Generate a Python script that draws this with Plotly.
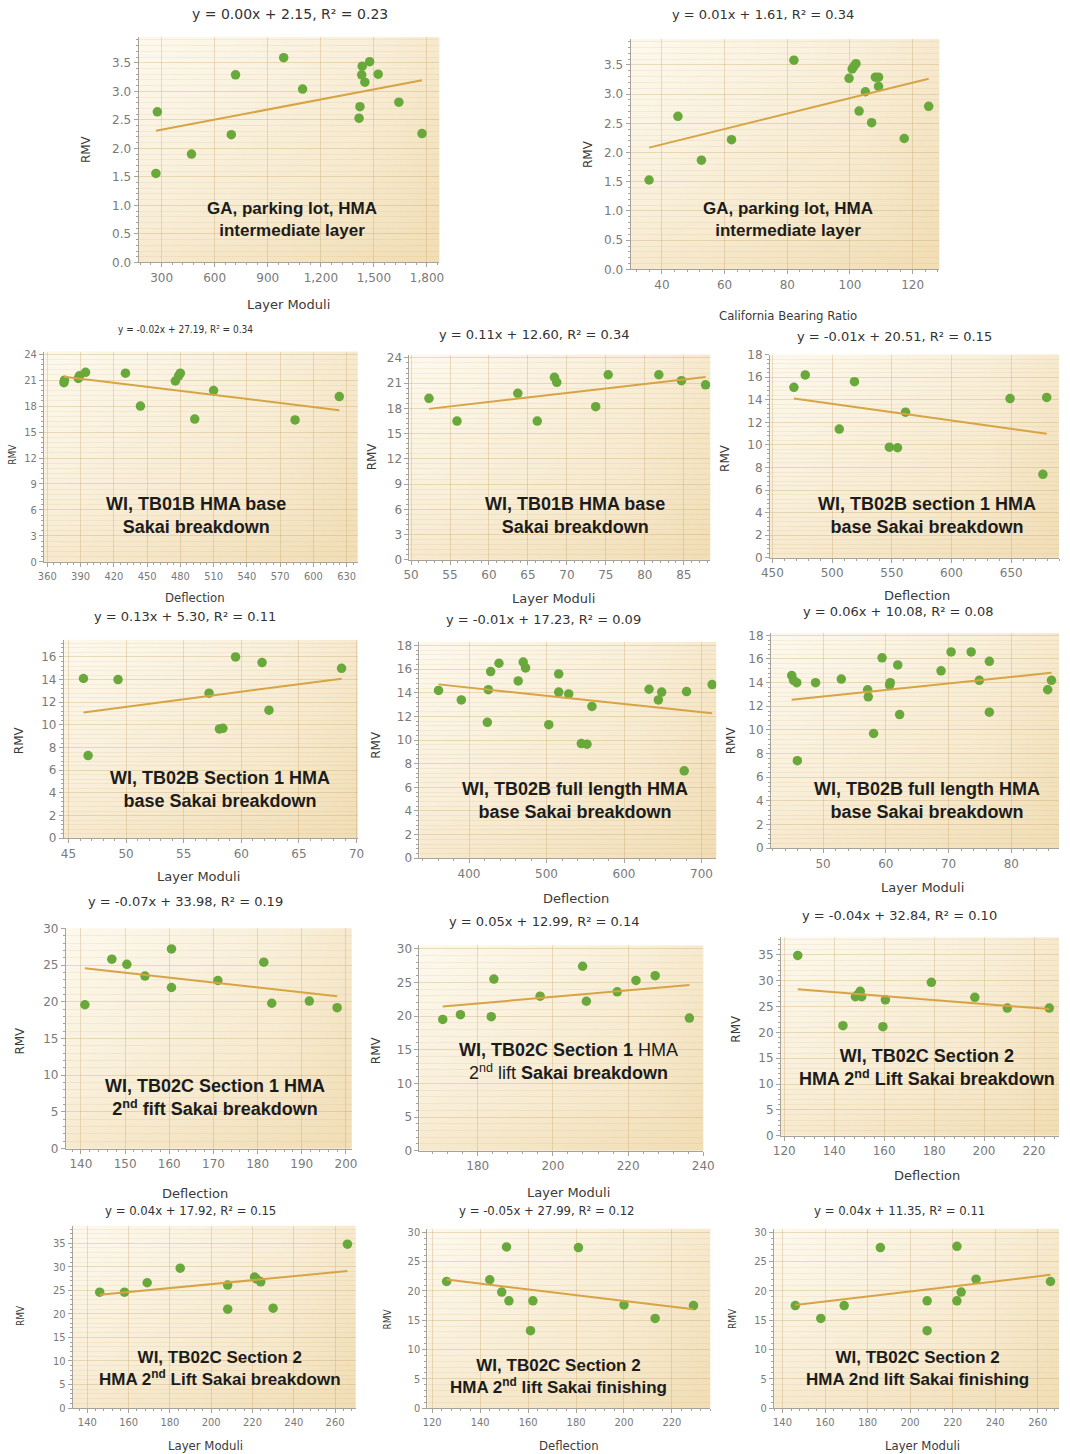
import base64
import struct
import zlib

import plotly.graph_objects as go

W, H = 1070, 1454
# Measured mapping of the capture: picture = s * (page + 8) in each direction
SX, SY, OFF = 0.9853, 0.989, 8.0

# ---------------- data ----------------
# Panel 1: GA parking lot, Layer Moduli
p1_x = [268, 276, 469, 694, 718, 990, 1097, 1416, 1421, 1431, 1434, 1449, 1476, 1524, 1641, 1772]
p1_y = [1.56, 2.64, 1.90, 2.24, 3.29, 3.59, 3.04, 2.53, 2.73, 3.29, 3.44, 3.16, 3.52, 3.30, 2.81, 2.26]
p1_trend = [0.00059, 2.15]

# Panel 2: GA parking lot, California Bearing Ratio
p2_x = [35.9, 45.1, 52.6, 62.2, 82.1, 99.7, 100.7, 101.3, 101.9, 102.9, 104.9, 106.9, 108.1, 109.1, 109.1, 117.3, 125.1]
p2_y = [1.53, 2.62, 1.87, 2.22, 3.58, 3.27, 3.43, 3.48, 3.52, 2.71, 3.04, 2.51, 3.29, 3.29, 3.13, 2.24, 2.79]
p2_trend = [0.0132, 1.61]

# Panel 3: WI TB01B, Deflection
p3_x = [375, 375.5, 388, 389, 394.5, 430.5, 444, 475.5, 478.5, 480, 493, 510, 583.5, 623.4]
p3_y = [20.7, 21.0, 21.2, 21.5, 21.9, 21.8, 18.0, 20.9, 21.5, 21.8, 16.5, 19.8, 16.4, 19.1]
p3_trend = [-0.0155, 27.19]

# Panel 4: WI TB01B, Layer Moduli
p4_x = [52.3, 55.9, 63.7, 66.2, 68.4, 68.7, 73.7, 75.3, 81.8, 84.7, 87.8]
p4_y = [19.2, 16.5, 19.8, 16.5, 21.7, 21.1, 18.2, 22.0, 22.0, 21.3, 20.8]
p4_trend = [0.107, 12.35]

# Panel 5: WI TB02B section 1, Deflection
p5_x = [468, 477.5, 506, 518.7, 548, 554.8, 561.5, 649, 676.5, 679.7]
p5_y = [15.1, 16.2, 11.4, 15.6, 9.8, 9.75, 12.9, 14.1, 7.4, 14.2]
p5_trend = [-0.0147, 20.98]

# Panel 6: WI TB02B Section 1, Layer Moduli
p6_x = [46.3, 46.7, 49.3, 57.2, 58.1, 58.4, 59.5, 61.8, 62.4, 68.7]
p6_y = [14.1, 7.3, 14.0, 12.8, 9.65, 9.7, 16.0, 15.5, 11.3, 15.0]
p6_trend = [0.133, 4.95]

# Panel 7: WI TB02B full length, Deflection
p7_x = [360.6, 390, 423.6, 424.9, 427.9, 438.6, 463.4, 469.9, 472.9, 502.9, 515.7, 515.7,
        528.6, 544.9, 552.2, 558.6, 632.3, 644.3, 648.6, 677.7, 680.7, 713.7]
p7_y = [14.2, 13.4, 11.5, 14.26, 15.8, 16.5, 15.0, 16.6, 16.1, 11.3, 15.6, 14.06,
        13.9, 9.7, 9.65, 12.85, 14.3, 13.4, 14.06, 7.4, 14.1, 14.7]
p7_trend = [-0.0069, 17.2]

# Panel 8: WI TB02B full length, Layer Moduli
p8_x = [45.0, 45.3, 45.8, 45.9, 48.8, 52.9, 57.1, 57.2, 58.05, 59.4, 60.6, 60.7,
        61.9, 62.2, 68.8, 70.4, 73.6, 74.9, 76.5, 76.5, 85.8, 86.4]
p8_y = [14.6, 14.2, 14.0, 7.4, 14.0, 14.3, 13.4, 12.8, 9.7, 16.1, 13.8, 14.0,
        15.5, 11.3, 15.0, 16.6, 16.6, 14.2, 15.8, 11.5, 13.4, 14.2]
p8_trend = [0.055, 10.08]

# Panel 9: WI TB02C Section 1, Deflection
p9_x = [140.9, 147, 150.4, 154.5, 160.5, 160.5, 171, 181.4, 183.2, 191.7, 198]
p9_y = [19.6, 25.8, 25.1, 23.5, 27.2, 21.95, 22.9, 25.4, 19.8, 20.1, 19.2]
p9_trend = [-0.0665, 33.93]

# Panel 10: WI TB02C Section 1, Layer Moduli
p10_x = [170.7, 175.4, 183.6, 184.3, 196.6, 207.9, 208.9, 217.1, 222.1, 227.2, 236.3]
p10_y = [19.5, 20.2, 19.9, 25.5, 22.95, 27.4, 22.2, 23.6, 25.3, 26.0, 19.7]
p10_trend = [0.049, 13.05]

# Panel 11: WI TB02C Section 2 breakdown, Deflection
p11_x = [125.4, 143.5, 148.5, 149.5, 150.4, 151, 159.5, 160.5, 178.9, 196.3, 209.3, 226.1]
p11_y = [34.9, 21.3, 26.9, 27.3, 27.95, 26.9, 21.1, 26.3, 29.7, 26.8, 24.7, 24.7]
p11_trend = [-0.038, 33.1]

# Panel 12: WI TB02C Section 2 breakdown, Layer Moduli
p12_x = [146, 158, 169, 185, 208, 208, 221, 222, 224, 230, 266]
p12_y = [24.6, 24.6, 26.6, 29.7, 26.1, 21.0, 27.8, 27.4, 26.8, 21.2, 34.8]
p12_trend = [0.042, 17.9]

# Panel 13: WI TB02C Section 2 finishing, Deflection
p13_x = [126, 144, 149, 151, 152, 162, 161, 181, 200, 213, 229]
p13_y = [21.6, 21.9, 19.8, 27.5, 18.3, 18.3, 13.2, 27.4, 17.6, 15.3, 17.5]
p13_trend = [-0.049, 28.1]

# Panel 14: WI TB02C Section 2 finishing, Layer Moduli
p14_x = [146, 158, 169, 186, 208, 208, 222, 222, 224, 231, 266]
p14_y = [17.5, 15.3, 17.5, 27.4, 18.3, 13.2, 27.6, 18.3, 19.8, 22.0, 21.6]
p14_trend = [0.043, 11.3]

equations = [
    "y = 0.00x + 2.15, R² = 0.23", "y = 0.01x + 1.61, R² = 0.34",
    "y = -0.02x + 27.19, R² = 0.34", "y = 0.11x + 12.60, R² = 0.34", "y = -0.01x + 20.51, R² = 0.15",
    "y = 0.13x + 5.30, R² = 0.11", "y = -0.01x + 17.23, R² = 0.09", "y = 0.06x + 10.08, R² = 0.08",
    "y = -0.07x + 33.98, R² = 0.19", "y = 0.05x + 12.99, R² = 0.14", "y = -0.04x + 32.84, R² = 0.10",
    "y = 0.04x + 17.92, R² = 0.15", "y = -0.05x + 27.99, R² = 0.12", "y = 0.04x + 11.35, R² = 0.11",
]
labels = [
    "<b>GA, parking lot, HMA<br>intermediate layer</b>",
    "<b>GA, parking lot, HMA<br>intermediate layer</b>",
    "<b>WI, TB01B HMA base<br>Sakai breakdown</b>",
    "<b>WI, TB01B HMA base<br>Sakai breakdown</b>",
    "<b>WI, TB02B section 1 HMA<br>base Sakai breakdown</b>",
    "<b>WI, TB02B Section 1 HMA<br>base Sakai breakdown</b>",
    "<b>WI, TB02B full length HMA<br>base Sakai breakdown</b>",
    "<b>WI, TB02B full length HMA<br>base Sakai breakdown</b>",
    "<b>WI, TB02C Section 1 HMA<br>2<sup>nd</sup> fift Sakai breakdown</b>",
    "<b>WI, TB02C Section 1</b> HMA<br>2<sup>nd</sup> lift <b>Sakai breakdown</b>",
    "<b>WI, TB02C Section 2<br>HMA 2<sup>nd</sup> Lift Sakai breakdown</b>",
    "<b>WI, TB02C Section 2<br>HMA 2<sup>nd</sup> Lift Sakai breakdown</b>",
    "<b>WI, TB02C Section 2<br>HMA 2<sup>nd</sup> lift Sakai finishing</b>",
    "<b>WI, TB02C Section 2<br>HMA 2nd lift Sakai finishing</b>",
]
x_titles = ["Layer Moduli", "California Bearing Ratio", "Deflection", "Layer Moduli", "Deflection",
            "Layer Moduli", "Deflection", "Layer Moduli", "Deflection", "Layer Moduli", "Deflection",
            "Layer Moduli", "Deflection", "Layer Moduli"]
y_title = "RMV"

series = [(p1_x, p1_y, p1_trend), (p2_x, p2_y, p2_trend), (p3_x, p3_y, p3_trend),
          (p4_x, p4_y, p4_trend), (p5_x, p5_y, p5_trend), (p6_x, p6_y, p6_trend),
          (p7_x, p7_y, p7_trend), (p8_x, p8_y, p8_trend), (p9_x, p9_y, p9_trend),
          (p10_x, p10_y, p10_trend), (p11_x, p11_y, p11_trend), (p12_x, p12_y, p12_trend),
          (p13_x, p13_y, p13_trend), (p14_x, p14_y, p14_trend)]

# ---------------- layout config (target picture pixels) ----------------
# box = (left, right, top, bottom) of plot area
cfg = [
    dict(box=(138, 440, 38, 263), xr=[170, 1870], yr=[0, 3.95], xd=300, x0=300, yd=0.5, xf=",d", yf=".1f",
         eq=(290, 15), lab=(292, 220), xt=(289, 305), yt=(85, 150), cond=False, labsize=17, eqsize=14),
    dict(box=(632, 942, 40, 270), xr=[30, 128.5], yr=[0, 3.94], xd=20, x0=40, yd=0.5, xf="", yf=".1f",
         eq=(765, 15), lab=(790, 220), xt=(790, 316), yt=(590, 155), cond=False, labsize=17, xtcond=True),
    dict(box=(43, 358, 352, 562), xr=[357, 640], yr=[0, 24.3], xd=30, x0=360, yd=3, xf="", yf="",
         eq=(185, 330), lab=(196, 516), xt=(195, 598), yt=(12, 455), cond=True, labsize=18, eqsmall=True),
    dict(box=(410, 712, 355, 560), xr=[49.8, 88.4], yr=[0, 24.4], xd=5, x0=50, yd=3, xf="", yf="",
         eq=(535, 335), lab=(576, 516), xt=(555, 599), yt=(372, 457), cond=False, labsize=18),
    dict(box=(772, 1066, 355, 558), xr=[448, 690], yr=[0, 18], xd=50, x0=450, yd=2, xf="", yf="",
         eq=(897, 337), lab=(930, 516), xt=(920, 596), yt=(727, 458), cond=False, labsize=18),
    dict(box=(63, 358, 640, 838), xr=[44.6, 70.1], yr=[0, 17.5], xd=5, x0=45, yd=2, xf="", yf="",
         eq=(185, 617), lab=(220, 789), xt=(198, 876), yt=(18, 740), cond=False, labsize=18),
    dict(box=(420, 718, 642, 858), xr=[336, 719], yr=[0, 18.3], xd=100, x0=400, yd=2, xf="", yf="",
         eq=(545, 620), lab=(576, 800), xt=(577, 898), yt=(376, 745), cond=False, labsize=18),
    dict(box=(773, 1066, 633, 848), xr=[41.7, 87.6], yr=[0, 18.2], xd=10, x0=50, yd=2, xf="", yf="",
         eq=(900, 612), lab=(930, 800), xt=(925, 887), yt=(733, 740), cond=False, labsize=18),
    dict(box=(65, 352, 928, 1148), xr=[136.6, 201.3], yr=[0, 30], xd=10, x0=140, yd=5, xf="", yf="",
         eq=(185, 901), lab=(215, 1097), xt=(195, 1193), yt=(18, 1040), cond=False, labsize=18),
    dict(box=(420, 705, 945, 1150), xr=[164.5, 240], yr=[0, 30.5], xd=20, x0=180, yd=5, xf="", yf="",
         eq=(545, 921), lab=(570, 1061), xt=(570, 1192), yt=(376, 1050), cond=False, labsize=18),
    dict(box=(783, 1068, 937, 1135), xr=[118.7, 230], yr=[0, 38.4], xd=20, x0=120, yd=5, xf="", yf="",
         eq=(902, 915), lab=(930, 1067), xt=(930, 1175), yt=(737, 1028), cond=False, labsize=18),
    dict(box=(72, 356, 1225, 1407), xr=[133, 270], yr=[0, 38.7], xd=20, x0=140, yd=5, xf="", yf="",
         eq=(190, 1210), lab=(220, 1368), xt=(205, 1444), yt=(20, 1315), cond=True, labsize=17),
    dict(box=(428, 712, 1228, 1407), xr=[118, 236], yr=[0, 30.6], xd=20, x0=120, yd=5, xf="", yf="",
         eq=(548, 1210), lab=(560, 1376), xt=(570, 1444), yt=(388, 1318), cond=True, labsize=17),
    dict(box=(776, 1066, 1228, 1407), xr=[136, 270], yr=[0, 30.6], xd=20, x0=140, yd=5, xf="", yf="",
         eq=(902, 1210), lab=(920, 1368), xt=(925, 1444), yt=(735, 1318), cond=True, labsize=17),
]

GREEN = "#69a83b"
TREND = "#d7a445"
GRID = "rgba(196,160,96,0.32)"
MINOR = "rgba(196,160,96,0.12)"
AXIS = "#a8a39a"
TICKC = "#7a7a7a"


# ---- cream gradient used as the plot-area background (style only) ----
def gradient_png(w=48, h=48, c0=(253, 249, 238), c1=(241, 221, 180)):
    raw = bytearray()
    for j in range(h):
        raw.append(0)
        v = j / (h - 1)
        for i in range(w):
            u = i / (w - 1)
            t = 0.5 * u + 0.5 * v
            edge = max(abs(u - 0.4) * 2, abs(v - 0.4) * 2)
            t = min(1.0, t * 0.85 + 0.25 * max(0.0, edge - 0.7))
            for k in range(3):
                raw.append(int(round(c0[k] + (c1[k] - c0[k]) * t)))

    def chunk(tag, data):
        return (struct.pack(">I", len(data)) + tag + data
                + struct.pack(">I", zlib.crc32(tag + data) & 0xFFFFFFFF))

    png = (b"\x89PNG\r\n\x1a\n"
           + chunk(b"IHDR", struct.pack(">IIBBBBB", w, h, 8, 2, 0, 0, 0))
           + chunk(b"IDAT", zlib.compress(bytes(raw), 9))
           + chunk(b"IEND", b""))
    return "data:image/png;base64," + base64.b64encode(png).decode()


BG_IMG = gradient_png()

fig = go.Figure()
annotations = []
images = []


def px(xp):
    return min(max((xp / SX - OFF) / W, 0.0), 1.0)


def py(yp):
    return min(max(1 - (yp / SY - OFF) / H, 0.0), 1.0)


for i, ((xs, ys, tr), c) in enumerate(zip(series, cfg)):
    n = i + 1
    xa = "x" if n == 1 else f"x{n}"
    ya = "y" if n == 1 else f"y{n}"
    fig.add_trace(go.Scatter(x=xs, y=ys, mode="markers", xaxis=xa, yaxis=ya,
                             marker=dict(color=GREEN, size=9.5, line=dict(width=0)),
                             showlegend=False, hoverinfo="skip"))
    x_lo, x_hi = min(xs), max(xs)
    fig.add_trace(go.Scatter(x=[x_lo, x_hi], y=[tr[0] * x_lo + tr[1], tr[0] * x_hi + tr[1]],
                             mode="lines", xaxis=xa, yaxis=ya,
                             line=dict(color=TREND, width=2), showlegend=False, hoverinfo="skip"))
    l, r, t, b = c["box"]
    images.append(dict(source=BG_IMG, xref="paper", yref="paper", x=px(l), y=py(t),
                       sizex=px(r) - px(l), sizey=py(t) - py(b), xanchor="left", yanchor="top",
                       sizing="stretch", layer="below"))
    tickfam = "DejaVu Sans Condensed" if c["cond"] else "DejaVu Sans"
    ticksize = 11 if c["cond"] else 12
    xkey = "xaxis" if n == 1 else f"xaxis{n}"
    ykey = "yaxis" if n == 1 else f"yaxis{n}"
    fig.update_layout({
        xkey: dict(domain=[px(l), px(r)], range=c["xr"], anchor=ya, tick0=c["x0"], dtick=c["xd"],
                   tickformat=c["xf"], showline=True, linecolor=AXIS, ticks="outside", ticklen=4,
                   tickcolor=AXIS, showgrid=True, gridcolor=GRID, zeroline=False,
                   tickfont=dict(family=tickfam, size=ticksize, color=TICKC),
                   minor=dict(dtick=c["xd"] / 5, tick0=c["x0"], ticks="outside", ticklen=2,
                              tickcolor=AXIS, showgrid=False)),
        ykey: dict(domain=[py(b), py(t)], range=c["yr"], anchor=xa, tick0=0, dtick=c["yd"],
                   tickformat=c["yf"], showline=True, linecolor=AXIS, ticks="outside", ticklen=4,
                   tickcolor=AXIS, showgrid=True, gridcolor=GRID, zeroline=False,
                   tickfont=dict(family=tickfam, size=ticksize, color=TICKC),
                   minor=dict(dtick=c["yd"] / 5, tick0=0, ticks="outside", ticklen=2,
                              tickcolor=AXIS, showgrid=True, gridcolor=MINOR)),
    })
    # equation title
    eqsmall = c.get("eqsmall", False)
    annotations.append(dict(
        x=px(c["eq"][0]), y=py(c["eq"][1]), xref="paper", yref="paper", showarrow=False,
        text=equations[i], xanchor="center", yanchor="middle",
        font=dict(family="DejaVu Sans Condensed" if (c["cond"] or eqsmall) else "DejaVu Sans",
                  size=10 if eqsmall else c.get("eqsize", 13), color="#333333")))
    # in-plot label
    annotations.append(dict(
        x=px(c["lab"][0]), y=py(c["lab"][1]), xref="paper", yref="paper", showarrow=False,
        text=labels[i], xanchor="center", yanchor="middle", align="center",
        font=dict(family="Liberation Sans", size=c["labsize"], color="#1c1c1c")))
    # x title
    xtc = c["cond"] or c.get("xtcond", False)
    annotations.append(dict(
        x=px(c["xt"][0]), y=py(c["xt"][1]), xref="paper", yref="paper", showarrow=False,
        text=x_titles[i], xanchor="center", yanchor="middle",
        font=dict(family="DejaVu Sans Condensed" if xtc else "DejaVu Sans", size=13, color="#3a3a3a")))
    # y title
    annotations.append(dict(
        x=px(c["yt"][0]), y=py(c["yt"][1]), xref="paper", yref="paper", showarrow=False,
        text=y_title, textangle=-90, xanchor="center", yanchor="middle",
        font=dict(family="DejaVu Sans Condensed" if c["cond"] else "DejaVu Sans",
                  size=10 if c["cond"] else 12, color="#3a3a3a")))

fig.update_layout(
    width=W, height=H, margin=dict(l=0, r=0, t=0, b=0),
    paper_bgcolor="white", plot_bgcolor="rgba(0,0,0,0)",
    annotations=annotations, images=images, showlegend=False,
)

fig.write_html("out.html", config={"displayModeBar": False},
               post_script="document.body.style.margin='0px';document.body.style.overflow='hidden';")
